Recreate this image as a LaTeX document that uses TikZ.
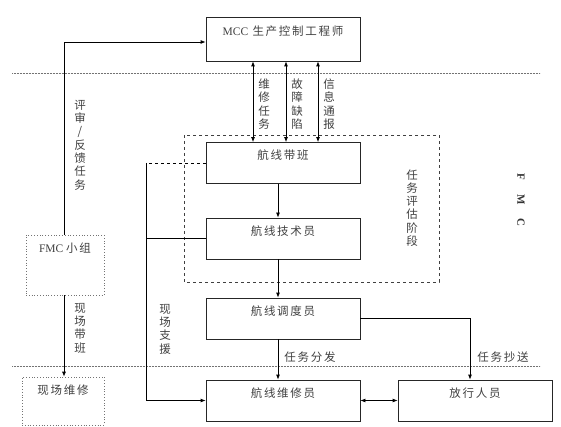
\documentclass[tikz,border=0pt]{standalone}
\usepackage{fontspec}
\setmainfont{Liberation Serif}
\newfontfamily\cjk[LetterSpace=15]{Noto Sans CJK SC}
\usetikzlibrary{arrows.meta}

\begin{document}
\begin{tikzpicture}[x=1pt, y=-1pt,
    >={Latex[length=5pt,width=4pt]},
    link/.style={draw=black, line width=0.8pt},
    rolebox/.style={draw=black!85, line width=0.8pt, minimum width=154pt, minimum height=41pt,
        inner sep=0pt, text height=8pt, text depth=14pt, text=black!75,
        font=\cjk\fontsize{11.5}{13}\selectfont},
    teambox/.style={rolebox, draw=black!55, dotted, line width=0.6pt},
    vlabel/.style={align=center, inner sep=0pt, text=black!75,
        font=\cjk\fontsize{11.5}{13.3}\selectfont},
    hlabel/.style={inner sep=0pt, text=black!75, font=\cjk\fontsize{11.5}{13}\selectfont},
    zoneline/.style={draw=black!55, line width=0.6pt, dash pattern=on 0.7pt off 0.8pt}]

    \useasboundingbox (0,0) rectangle (561,427);

    % Define zone separators
    \draw[zoneline] (12,73) -- (540,73);
    \draw[zoneline] (12,366) -- (540,366);

    % Define evaluation stage frame
    \draw[draw=black!75, line width=0.8pt, dashed] (184,135) rectangle (439,282);

    % Define role boxes
    \node[rolebox, minimum height=44pt] (mcc) at (283,39) {{\rmfamily MCC} 生产控制工程师};
    \node[rolebox] (dbb) at (283,163) {航线带班};
    \node[rolebox] (jsy) at (283,238.5) {航线技术员};
    \node[rolebox] (ddy) at (283,318.5) {航线调度员};
    \node[rolebox] (wxy) at (283,400.5) {航线维修员};
    \node[rolebox] (fxry) at (475,400.5) {放行人员};

    % Define FMC team boxes
    \node[teambox, minimum width=78pt, minimum height=60pt, text depth=34pt] (fmc) at (65,265)
        {\rmfamily FMC \cjk 小组};
    \node[teambox, minimum width=82pt, minimum height=48pt, text depth=22pt] (xcwx) at (63,401)
        {现场维修};

    % Define links to MCC
    \foreach \dx in {-30,3,35}
        \draw[link, <->] ([xshift=\dx pt]mcc.south) -- ([xshift=\dx pt]dbb.north);
    \node[vlabel] (lblwx) at (264,104) {维\\修\\任\\务};
    \node[vlabel] (lblgz) at (297,104) {故\\障\\缺\\陷};
    \node[vlabel] (lblxx) at (329,104) {信\\息\\通\\报};

    % Define main task flow
    \draw[link, ->] ([xshift=-5pt]dbb.south) -- ([xshift=-5pt]jsy.north);
    \draw[link, ->] ([xshift=-5pt]jsy.south) -- ([xshift=-5pt]ddy.north);
    \draw[link, ->] ([xshift=-5pt]ddy.south) -- ([xshift=-5pt]wxy.north);
    \draw[link, ->] (ddy.east) -| ([xshift=-5pt]fxry.north);
    \draw[link, <->] (wxy.east) -- (fxry.west);
    \node[hlabel] (lblff) at (310,357) {任务分发};
    \node[hlabel] (lblcs) at (503,357) {任务抄送};

    % Define on-site support bus
    \coordinate (bus) at (146,0);
    \draw[link, dashed] (dbb.west) -- (dbb.west -| bus);
    \draw[link] (jsy.west) -- (jsy.west -| bus);
    \draw[link, ->] (dbb.west -| bus) |- (wxy.west);
    \node[vlabel] (lblzy) at (165,329) {现\\场\\支\\援};

    % Define FMC team links
    \draw[link, ->] ([xshift=-1pt]fmc.north) |- ([yshift=-3pt]mcc.west);
    \draw[link, ->] ([xshift=-1pt]fmc.south) -- ([xshift=1pt]xcwx.north);
    \node[vlabel] (lblps) at (80,145) {评\\审\\/\\反\\馈\\任\\务};
    \node[vlabel] (lbldb) at (80,328) {现\\场\\带\\班};

    % Define stage and area titles
    \node[vlabel] (lblpg) at (412,208) {任\\务\\评\\估\\阶\\段};
    \node[rotate=-90, inner sep=0pt, font=\bfseries\fontsize{11}{13}\selectfont, text=black!80]
        (lblfmc) at (521,200) {F\hspace{14pt}M\hspace{14pt}C};
\end{tikzpicture}
\end{document}
